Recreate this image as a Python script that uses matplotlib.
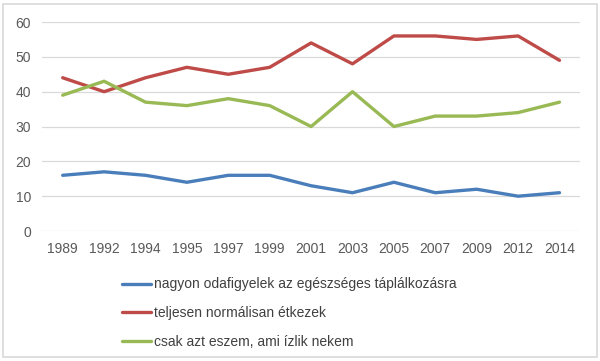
import matplotlib
matplotlib.use('Agg')
import matplotlib.pyplot as plt
from matplotlib.patches import Rectangle

years = ['1989', '1992', '1994', '1995', '1997', '1999', '2001', '2003', '2005', '2007', '2009', '2012', '2014']
nagyon = [16, 17, 16, 14, 16, 16, 13, 11, 14, 11, 12, 10, 11]
normalisan = [44, 40, 44, 47, 45, 47, 54, 48, 56, 56, 55, 56, 49]
izlik = [39, 43, 37, 36, 38, 36, 30, 40, 30, 33, 33, 34, 37]
labels = ['nagyon odafigyelek az egészséges táplálkozásra',
          'teljesen normálisan étkezek',
          'csak azt eszem, ami ízlik nekem']
colors = ['#4A7EBB', '#BE4B48', '#98B954']

plt.rcParams['font.family'] = ['Liberation Sans', 'DejaVu Sans']

fig = plt.figure(figsize=(6, 3.61), dpi=100)
ax = fig.add_axes([0.07, 0.36, 0.897, 0.579])

x = range(len(years))
for vals, lab, c in zip([nagyon, normalisan, izlik], labels, colors):
    ax.plot(x, vals, color=c, lw=2.4, label=lab, solid_capstyle='round')

ax.set_xlim(-0.5, len(years) - 0.5)
ax.set_ylim(0, 60)
ax.set_yticks(range(0, 61, 10))
ax.set_xticks(list(x))
ax.set_xticklabels(years)
ax.grid(axis='y', color='#d9d9d9', lw=0.9)
ax.set_axisbelow(True)
for s in ax.spines.values():
    s.set_visible(False)
ax.tick_params(length=0, labelsize=10, colors='#595959', pad=8)

leg = fig.legend(loc='upper left', bbox_to_anchor=(0.183, 0.266), frameon=False,
                 fontsize=10, handlelength=2.1, handletextpad=0.2, labelspacing=1.05)
for t in leg.get_texts():
    t.set_color('#404040')

# outer chart border
fig.patches.append(Rectangle((0.005, 0.01), 0.99, 0.98, transform=fig.transFigure,
                             fill=False, edgecolor='#d9d9d9', lw=1.2))

fig.savefig('out.png', dpi=100)
